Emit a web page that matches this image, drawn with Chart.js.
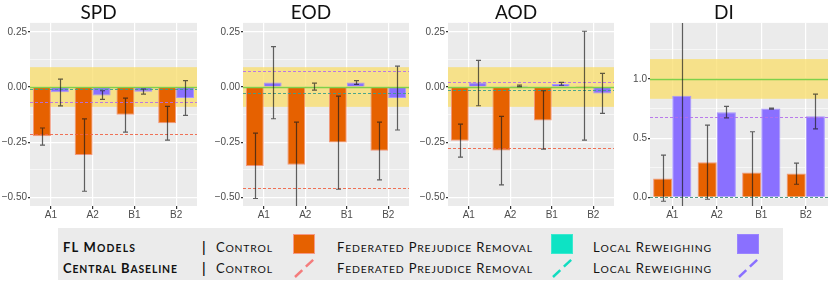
<!DOCTYPE html>
<html>
<head>
<meta charset="utf-8">
<script src="https://cdn.jsdelivr.net/npm/chart.js@4"></script>
<style>
  body { margin: 0; width: 831px; height: 286px; background: #fff; position: relative; overflow: hidden; }
  canvas { position: absolute; top: 0; }
  .legend { position: absolute; left: 58px; top: 228px; width: 725px; height: 52px; background: #ebebeb; }
  .lg { position: absolute; font-family: Lato, "Open Sans", sans-serif; font-size: 13px; color: #111; line-height: 16px; white-space: nowrap; text-transform: uppercase; }
  .lg .s { font-size: 0.8em; }
  .b { font-weight: bold; }
  .bar { position: absolute; font-family: "Liberation Sans", sans-serif; font-size: 14px; color: #000; line-height: 16px; }
  .sq { position: absolute; width: 20px; height: 18px; top: 6px; }
  .dash { position: absolute; top: 27px; }
</style>
</head>
<body>
<canvas id="c0" width="197" height="224" style="left:0px"></canvas>
<canvas id="c1" width="196" height="224" style="left:213px"></canvas>
<canvas id="c2" width="196" height="224" style="left:418px"></canvas>
<canvas id="c3" width="208" height="224" style="left:620px"></canvas>

<div class="legend">
  <div class="lg b" data-w="72" style="left:5px;top:11px">FL Models</div>
  <div class="lg b" data-w="114" style="left:5px;top:32px">Central Baseline</div>
  <div class="bar" style="left:144px;top:11px">|</div>
  <div class="bar" style="left:144px;top:32px">|</div>
  <div class="lg" data-w="56" style="left:158px;top:11px">Control</div>
  <div class="lg" data-w="56" style="left:158px;top:32px">Control</div>
  <div class="sq" style="left:235px;background:#e66100;border:1px solid #f59a86"></div>
  <svg class="dash" style="left:235px" width="24" height="24"><line x1="2" y1="22" x2="22" y2="3" stroke="#f47c7c" stroke-width="2.5" stroke-dasharray="10 5"/></svg>
  <div class="lg" data-w="195" style="left:279px;top:11px">Federated Prejudice Removal</div>
  <div class="lg" data-w="195" style="left:279px;top:32px">Federated Prejudice Removal</div>
  <div class="sq" style="left:493px;background:#0de3c4;border:1px solid #3ae9cf"></div>
  <svg class="dash" style="left:493px" width="24" height="24"><line x1="2" y1="22" x2="22" y2="3" stroke="#12dcc0" stroke-width="2.5" stroke-dasharray="10 5"/></svg>
  <div class="lg" data-w="118" style="left:535px;top:11px">Local Reweighing</div>
  <div class="lg" data-w="118" style="left:535px;top:32px">Local Reweighing</div>
  <div class="sq" style="left:679px;background:#8a70ff;border:1px solid #9a84ff"></div>
  <svg class="dash" style="left:679px" width="24" height="24"><line x1="2" y1="22" x2="22" y2="3" stroke="#8a70ff" stroke-width="2.5" stroke-dasharray="10 5"/></svg>
</div>

<script>
const categories = ["A1", "A2", "B1", "B2"];
const metrics = ["SPD", "EOD", "AOD", "DI"];

// rows: SPD, EOD, AOD, DI
const controlMean = [
  [-0.224, -0.309, -0.126, -0.164],
  [-0.358, -0.353, -0.252, -0.289],
  [-0.244, -0.288, -0.152, 0.005],
  [0.158, 0.297, 0.209, 0.2],
];
const controlLow = [
  [-0.264, -0.473, -0.205, -0.241],
  [-0.506, -0.62, -0.464, -0.421],
  [-0.318, -0.444, -0.282, -0.241],
  [-0.034, -0.017, -0.15, 0.11],
];
const controlHigh = [
  [-0.186, -0.145, -0.05, -0.088],
  [-0.209, -0.159, -0.041, -0.159],
  [-0.168, -0.133, -0.017, 0.253],
  [0.356, 0.61, 0.554, 0.288],
];
const reweighMean = [
  [-0.024, -0.038, -0.021, -0.05],
  [0.02, 0.003, 0.02, -0.05],
  [0.02, 0.006, 0.014, -0.029],
  [0.859, 0.72, 0.751, 0.686],
];
const reweighLow = [
  [-0.086, -0.056, -0.032, -0.129],
  [-0.144, -0.014, 0.012, -0.195],
  [-0.085, 0.002, 0.008, -0.12],
  [-0.2, 0.672, 0.746, 0.579],
];
const reweighHigh = [
  [0.036, -0.017, -0.009, 0.029],
  [0.183, 0.018, 0.029, 0.095],
  [0.121, 0.009, 0.021, 0.062],
  [1.6, 0.768, 0.754, 0.873],
];

// central baselines and fairness region per metric
const baseControl = [-0.215, -0.459, -0.279, 0];
const basePrejudice = [-0.009, -0.026, -0.012, 0];
const baseReweigh = [-0.068, 0.073, 0.023, 0.681];
const idealValue = [0, 0, 0, 1];
const fairLow = [-0.09, -0.09, -0.09, 0.833];
const fairHigh = [0.09, 0.09, 0.09, 1.169];

const diffTicks = [-0.5, -0.375, -0.25, -0.125, 0, 0.125, 0.25];
const ratioTicks = [0, 0.25, 0.5, 0.75, 1, 1.25];

// small caps look: lowercase runs get a smaller size, then stretch to the width
document.querySelectorAll(".lg").forEach((el) => {
  const txt = el.textContent;
  el.innerHTML = txt.replace(/([a-z]+)/g, '<span class="s">$1</span>');
  const target = Number(el.dataset.w);
  const natural = el.getBoundingClientRect().width;
  el.style.letterSpacing = ((target - natural) / (txt.length - 1)).toFixed(2) + "px";
});

const refPlugin = {
  id: "refs",
  beforeDraw(chart) {
    const { ctx, chartArea: a } = chart;
    ctx.save();
    ctx.fillStyle = "#ebebeb";
    ctx.fillRect(a.left, a.top, a.right - a.left, a.bottom - a.top);
    ctx.restore();
  },
  beforeDatasetsDraw(chart, args, o) {
    const { ctx, chartArea: a, scales } = chart;
    const y = scales.y;
    ctx.save();
    ctx.fillStyle = "rgba(250, 220, 100, 0.72)";
    const top = y.getPixelForValue(o.hi);
    const bot = y.getPixelForValue(o.lo);
    ctx.fillRect(a.left, top, a.right - a.left, bot - top);
    ctx.restore();
  },
  afterDatasetsDraw(chart, args, o) {
    const { ctx, chartArea: a, scales } = chart;
    const y = scales.y;
    ctx.save();
    ctx.beginPath();
    ctx.rect(a.left, a.top, a.right - a.left, a.bottom - a.top);
    ctx.clip();

    const hline = (v, color, dash, w) => {
      const py = Math.round(y.getPixelForValue(v)) + 0.5;
      ctx.strokeStyle = color;
      ctx.lineWidth = w;
      ctx.setLineDash(dash);
      ctx.beginPath();
      ctx.moveTo(a.left, py);
      ctx.lineTo(a.right, py);
      ctx.stroke();
    };
    hline(o.ideal, "#7fd04a", [], 1.3);
    hline(o.control, "rgba(240, 100, 70, 0.9)", [3, 2], 1);
    hline(o.reweigh, "rgba(180, 110, 235, 0.9)", [3, 2], 1);
    hline(o.prejudice, "rgba(60, 160, 140, 0.9)", [3, 2], 1);
    ctx.setLineDash([]);

    // error bars
    ctx.strokeStyle = "rgba(25, 25, 25, 0.68)";
    ctx.lineWidth = 1.2;
    o.errors.forEach((err, di) => {
      const meta = chart.getDatasetMeta(di);
      meta.data.forEach((bar, i) => {
        const x = Math.round(bar.x) + 0.5;
        const y1 = y.getPixelForValue(err.hi[i]);
        const y2 = y.getPixelForValue(err.lo[i]);
        ctx.beginPath();
        ctx.moveTo(x, y1);
        ctx.lineTo(x, y2);
        ctx.moveTo(x - 2.5, y1);
        ctx.lineTo(x + 2.5, y1);
        ctx.moveTo(x - 2.5, y2);
        ctx.lineTo(x + 2.5, y2);
        ctx.stroke();
      });
    });
    ctx.restore();
  },
};

metrics.forEach((name, m) => {
  const isRatio = name === "DI";
  const tickValues = isRatio ? ratioTicks : diffTicks;
  const majorStep = isRatio ? 0.5 : 0.25;
  const isMajor = (v) => Math.abs(v / majorStep - Math.round(v / majorStep)) < 1e-6;

  new Chart(document.getElementById("c" + m), {
    type: "bar",
    data: {
      labels: categories,
      datasets: [
        {
          label: "Control",
          data: controlMean[m],
          backgroundColor: "#e66100",
          borderColor: "#f2977c",
          borderWidth: 1,
        },
        {
          label: "Local Reweighing",
          data: reweighMean[m],
          backgroundColor: "#8a70ff",
          borderColor: "#a796ff",
          borderWidth: 1,
        },
      ],
    },
    plugins: [refPlugin],
    options: {
      responsive: false,
      animation: false,
      layout: { padding: { left: 0, right: 0, top: 0, bottom: 0 } },
      datasets: {
        bar: { categoryPercentage: 0.86, barPercentage: 1 },
      },
      scales: {
        x: {
          offset: true,
          grid: {
            offset: false,
            color: "#ffffff",
            lineWidth: 1.2,
            tickLength: 3,
            tickColor: "#333333",
          },
          border: { display: false },
          ticks: {
            color: "#4d4d4d",
            padding: 0,
            font: { family: "Liberation Sans, Arial, sans-serif", size: 10 },
          },
          afterFit: (s) => { s.height = 18; },
        },
        y: {
          min: isRatio ? -0.074 : -0.54,
          max: isRatio ? 1.475 : 0.291,
          afterBuildTicks: (s) => { s.ticks = tickValues.map((v) => ({ value: v })); },
          afterFit: (s) => { s.width = 30; },
          grid: {
            color: "#ffffff",
            lineWidth: (c) => (c.tick && isMajor(c.tick.value) ? 1.2 : 0.6),
            tickLength: 2,
            tickColor: (c) => (c.tick && isMajor(c.tick.value) ? "#333333" : "rgba(0,0,0,0)"),
          },
          border: { display: false },
          ticks: {
            color: "#4d4d4d",
            padding: 1,
            font: { family: "Liberation Sans, Arial, sans-serif", size: 10 },
            callback: (v) => {
              if (!isMajor(v)) return "";
              const s = Math.abs(v).toFixed(isRatio ? 1 : 2);
              return v < 0 ? "\u2212" + s : s;
            },
          },
        },
      },
      plugins: {
        legend: { display: false },
        tooltip: { enabled: false },
        title: {
          display: true,
          text: name,
          color: "#111111",
          font: { family: "Lato, Open Sans, sans-serif", size: 19, weight: "normal", lineHeight: 1.1 },
          padding: { top: 2, bottom: 0 },
        },
        refs: {
          lo: fairLow[m],
          hi: fairHigh[m],
          ideal: idealValue[m],
          control: baseControl[m],
          reweigh: baseReweigh[m],
          prejudice: basePrejudice[m],
          errors: [
            { lo: controlLow[m], hi: controlHigh[m] },
            { lo: reweighLow[m], hi: reweighHigh[m] },
          ],
        },
      },
    },
  });
});
</script>
</body>
</html>
